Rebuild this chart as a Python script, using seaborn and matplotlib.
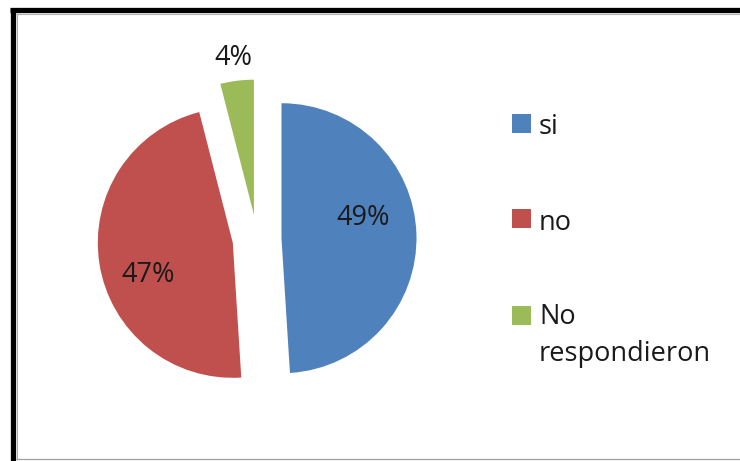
import matplotlib
matplotlib.use("Agg")
import matplotlib.pyplot as plt
from matplotlib.lines import Line2D
from matplotlib.patches import Rectangle
import seaborn as sns

# Survey answers
categories = ["si", "no", "No\nrespondieron"]
shares = [49, 47, 4]
percent_labels = ["49%", "47%", "4%"]

sns.set_theme(style="white")
plt.rcParams["font.family"] = ["Open Sans", "DejaVu Sans"]

colors = ["#4F81BD", "#C0504D", "#9BBB59"]

W, H = 740, 461
fig = plt.figure(figsize=(W / 100, H / 100), dpi=100)
fig.patch.set_facecolor("white")
ax = fig.add_axes([0, 0, 1, 1])

# Pie in pixel-like data units (y measured from the bottom)
cx, cy, radius = 257, H - 239, 135
gap = 24.5  # explode offset of every slice, in data units
wedges, _ = ax.pie(
    shares,
    colors=colors,
    startangle=90,
    counterclock=False,
    explode=[gap] * len(shares),
    center=(cx, cy),
    radius=radius,
    wedgeprops=dict(linewidth=0),
    frame=True,
)
ax.set_xlim(0, W)
ax.set_ylim(0, H)
ax.set_aspect("equal")
ax.axis("off")

FS = 19.5
TXT = "#1a1a1a"

# Percentage labels
label_pos = [(363, 218), (148, 275), (233, 58)]
for txt, (px, py) in zip(percent_labels, label_pos):
    ax.text(px, H - py, txt, ha="center", va="center", fontsize=FS, color=TXT)

# Legend: square swatch + text
legend_y = [123.5, 219, 315.5]
for cat, col, ly in zip(categories, colors, legend_y):
    ax.add_patch(Rectangle((512, H - ly - 9.5), 19, 19, facecolor=col,
                           edgecolor="none"))
    if "\n" in cat:
        ax.text(539, H - ly + 13, cat, ha="left", va="top", fontsize=FS,
                color=TXT, linespacing=1.45)
    else:
        ax.text(539, H - ly, cat, ha="left", va="center_baseline",
                fontsize=FS, color=TXT)

# Chart frame
def fline(x0, y0, x1, y1, lw, color):
    fig.add_artist(Line2D([x0 / W, x1 / W], [1 - y0 / H, 1 - y1 / H],
                          transform=fig.transFigure, lw=lw, color=color,
                          solid_capstyle="butt"))

fline(10, 10.5, W, 10.5, 3.8, "black")
fline(12.5, 8, 12.5, H, 3.8, "black")
fline(16, 14.5, W, 14.5, 0.8, "#b0b0b0")
fline(16.5, 14, 16.5, 458.5, 0.8, "#b0b0b0")
fline(16, 458.5, W, 458.5, 0.9, "#a0a0a0")

fig.savefig("out.png", dpi=100, facecolor="white")
